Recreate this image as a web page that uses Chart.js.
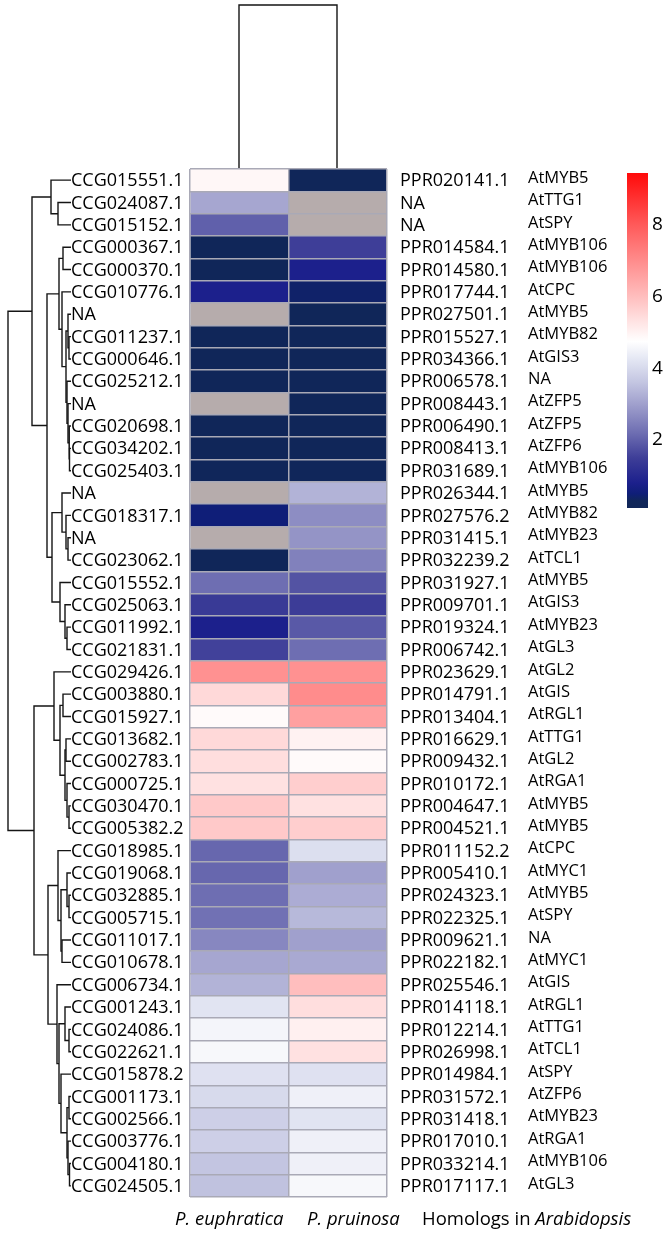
<!DOCTYPE html>
<html lang="en">
<head>
  <meta charset="UTF-8" />
  <title>Expression heatmap: P. euphratica vs P. pruinosa</title>
  <script src="https://cdn.jsdelivr.net/npm/chart.js"></script>
  <style>
    body {
      margin: 0;
      background: #fff;
      font-family: 'Open Sans', 'Liberation Sans', sans-serif;
    }
    .page {
      position: relative;
      width: 669px;
      height: 1236px;
    }
    .page canvas {
      position: absolute;
      left: 0;
      top: 0;
    }
    .collabel {
      position: absolute;
      top: 1208px;
      font-size: 18.5px;
      line-height: 19px;
      color: #000;
      white-space: nowrap;
    }
  </style>
</head>

<body>
  <div class="page">
    <canvas id="rowTree" width="669" height="1236"></canvas>
    <canvas id="colTree" width="669" height="1236"></canvas>
    <canvas id="heat" width="669" height="1236"></canvas>
    <canvas id="scaleBar" width="669" height="1236"></canvas>
    <div class="collabel" style="left:175px"><i>P. euphratica</i></div>
    <div class="collabel" style="left:307px"><i>P. pruinosa</i></div>
    <div class="collabel" style="left:422px">Homologs in <i>Arabidopsis</i></div>
  </div>

  <script>
    // ------------------------------------------
    // Data
    // ------------------------------------------
    const columns = ['P. euphratica', 'P. pruinosa'];

    const ccgLabels = [
      'CCG015551.1', 'CCG024087.1', 'CCG015152.1', 'CCG000367.1', 'CCG000370.1',
      'CCG010776.1', 'NA', 'CCG011237.1', 'CCG000646.1', 'CCG025212.1',
      'NA', 'CCG020698.1', 'CCG034202.1', 'CCG025403.1', 'NA',
      'CCG018317.1', 'NA', 'CCG023062.1', 'CCG015552.1', 'CCG025063.1',
      'CCG011992.1', 'CCG021831.1', 'CCG029426.1', 'CCG003880.1', 'CCG015927.1',
      'CCG013682.1', 'CCG002783.1', 'CCG000725.1', 'CCG030470.1', 'CCG005382.2',
      'CCG018985.1', 'CCG019068.1', 'CCG032885.1', 'CCG005715.1', 'CCG011017.1',
      'CCG010678.1', 'CCG006734.1', 'CCG001243.1', 'CCG024086.1', 'CCG022621.1',
      'CCG015878.2', 'CCG001173.1', 'CCG002566.1', 'CCG003776.1', 'CCG004180.1',
      'CCG024505.1'
    ];

    const pprLabels = [
      'PPR020141.1', 'NA', 'NA', 'PPR014584.1', 'PPR014580.1',
      'PPR017744.1', 'PPR027501.1', 'PPR015527.1', 'PPR034366.1', 'PPR006578.1',
      'PPR008443.1', 'PPR006490.1', 'PPR008413.1', 'PPR031689.1', 'PPR026344.1',
      'PPR027576.2', 'PPR031415.1', 'PPR032239.2', 'PPR031927.1', 'PPR009701.1',
      'PPR019324.1', 'PPR006742.1', 'PPR023629.1', 'PPR014791.1', 'PPR013404.1',
      'PPR016629.1', 'PPR009432.1', 'PPR010172.1', 'PPR004647.1', 'PPR004521.1',
      'PPR011152.2', 'PPR005410.1', 'PPR024323.1', 'PPR022325.1', 'PPR009621.1',
      'PPR022182.1', 'PPR025546.1', 'PPR014118.1', 'PPR012214.1', 'PPR026998.1',
      'PPR014984.1', 'PPR031572.1', 'PPR031418.1', 'PPR017010.1', 'PPR033214.1',
      'PPR017117.1'
    ];

    const homologLabels = [
      'AtMYB5', 'AtTTG1', 'AtSPY', 'AtMYB106', 'AtMYB106',
      'AtCPC', 'AtMYB5', 'AtMYB82', 'AtGIS3', 'NA',
      'AtZFP5', 'AtZFP5', 'AtZFP6', 'AtMYB106', 'AtMYB5',
      'AtMYB82', 'AtMYB23', 'AtTCL1', 'AtMYB5', 'AtGIS3',
      'AtMYB23', 'AtGL3', 'AtGL2', 'AtGIS', 'AtRGL1',
      'AtTTG1', 'AtGL2', 'AtRGA1', 'AtMYB5', 'AtMYB5',
      'AtCPC', 'AtMYC1', 'AtMYB5', 'AtSPY', 'NA',
      'AtMYC1', 'AtGIS', 'AtRGL1', 'AtTTG1', 'AtTCL1',
      'AtSPY', 'AtZFP6', 'AtMYB23', 'AtRGA1', 'AtMYB106',
      'AtGL3'
    ];

    // null = no ortholog (NA)
    const euphValues = [
      4.9, 3.1, 2.0, 0.2, 0.2, 0.8, null, 0.2, 0.2, 0.2,
      null, 0.2, 0.2, 0.25, null, 0.5, null, 0.2, 2.2, 1.4,
      0.8, 1.55, 6.9, 5.5, 4.85, 5.5, 5.4, 5.35, 5.8, 5.8,
      2.1, 2.1, 2.2, 2.25, 2.6, 3.1, 3.3, 4.2, 4.55, 4.6,
      4.15, 4.0, 3.8, 3.8, 3.6, 3.55
    ];

    const pruinValues = [
      0.2, null, null, 1.5, 0.8, 0.4, 0.2, 0.2, 0.2, 0.2,
      0.2, 0.2, 0.2, 0.3, 3.3, 2.7, 2.8, 2.5, 1.8, 1.45,
      1.9, 2.2, 6.9, 7.0, 6.6, 5.0, 4.85, 5.7, 5.35, 5.7,
      4.1, 3.0, 3.2, 3.4, 3.0, 3.15, 6.0, 5.4, 5.05, 5.35,
      4.15, 4.45, 4.2, 4.45, 4.45, 4.6
    ];

    // row dendrogram: [mergeHeight, left, right], leaves are row indices
    const rowTree = [63,
      [39,
        [20, 0, [13, 1, 2]],
        [24,
          [12, [8, 3, 4], [9, 5, [5, [3, 6, [2, 7, 8]], [4, 9, [3, 10, [2, 11, [1.5, 12, 13]]]]]]],
          [19, [9, 14, [5, 15, [3, 16, 17]]], [11, 18, [6, 19, [4, 20, 21]]]]]],
      [37,
        [17, 22, [11, [8, 23, 24], [6, [5, 25, 26], [4, 27, [2, 28, 29]]]]],
        [23,
          [13, 30, [10, [4, 31, [2, 32, 33]], [9, 34, 35]]],
          [14, 36, [12, [6, 37, [2, 38, 39]], [10, 40, [4, [2, 41, 42], [3, 43, [1.5, 44, 45]]]]]]]]
    ];

    // column dendrogram
    const colTree = [1, 0, 1];

    // colour key
    const scaleMin = 0.1;
    const scaleMax = 9.45;
    const scaleTicks = [2, 4, 6, 8];

    // ------------------------------------------
    // Colours
    // ------------------------------------------
    const paletteStops = [0.1, 0.3, 0.5, 0.8, 1.5, 2.2, 3.0, 3.6, 4.2, 4.75, 5.4, 6.0, 7.0, 8.0, 9.45];
    const paletteColors = [
      [16, 38, 88], [16, 38, 90], [15, 30, 120], [28, 32, 140], [62, 62, 152],
      [110, 110, 178], [160, 160, 205], [195, 197, 225], [225, 228, 242], [255, 255, 255],
      [255, 222, 222], [255, 190, 190], [255, 140, 140], [255, 90, 90], [255, 10, 10]
    ];
    const NA_COLOR = '#b6acac';
    const GRID_COLOR = '#a9a9b6';
    const TEXT_COLOR = '#000';

    function paletteColor(v) {
      if (v <= paletteStops[0]) return rgb(paletteColors[0]);
      for (let i = 1; i < paletteStops.length; i++) {
        if (v <= paletteStops[i]) {
          const t = (v - paletteStops[i - 1]) / (paletteStops[i] - paletteStops[i - 1]);
          const a = paletteColors[i - 1], b = paletteColors[i];
          return rgb(a.map((c, k) => c + (b[k] - c) * t));
        }
      }
      return rgb(paletteColors[paletteColors.length - 1]);
    }

    function rgb(c) {
      return `rgb(${Math.round(c[0])}, ${Math.round(c[1])}, ${Math.round(c[2])})`;
    }

    const cellColor = v => (v === null ? NA_COLOR : paletteColor(v));

    // ------------------------------------------
    // Dendrogram helpers
    // ------------------------------------------
    // returns the U-shaped segments of a tree, leaf i sits at i + 0.5
    function treeSegments(tree) {
      const segs = [];
      (function walk(node) {
        if (!Array.isArray(node)) return { h: 0, p: node + 0.5 };
        const [h, l, r] = node;
        const a = walk(l), b = walk(r);
        segs.push([a, { h, p: a.p }, { h, p: b.p }, b]);
        return { h, p: (a.p + b.p) / 2 };
      })(tree);
      return segs;
    }

    Chart.defaults.font.family = "'Open Sans', 'Liberation Sans', sans-serif";
    Chart.defaults.color = TEXT_COLOR;

    const baseOptions = {
      responsive: false,
      animation: false,
      events: [],
      plugins: { legend: { display: false }, tooltip: { enabled: false } }
    };

    const lineStyle = {
      showLine: true,
      borderColor: '#151515',
      borderWidth: 1.4,
      pointRadius: 0,
      clip: false,
      tension: 0
    };

    // ------------------------------------------
    // Row dendrogram (left)
    // ------------------------------------------
    new Chart(document.getElementById('rowTree'), {
      type: 'scatter',
      data: {
        datasets: treeSegments(rowTree).map(seg => ({
          ...lineStyle,
          data: seg.map(pt => ({ x: pt.h, y: pt.p }))
        }))
      },
      options: {
        ...baseOptions,
        layout: { padding: { left: 8, right: 598, top: 169, bottom: 39 } },
        scales: {
          x: { type: 'linear', min: 0, max: rowTree[0], reverse: true, display: false },
          y: { type: 'linear', min: 0, max: ccgLabels.length, reverse: true, display: false }
        }
      }
    });

    // ------------------------------------------
    // Column dendrogram (top)
    // ------------------------------------------
    new Chart(document.getElementById('colTree'), {
      type: 'scatter',
      data: {
        datasets: treeSegments(colTree).map(seg => ({
          ...lineStyle,
          data: seg.map(pt => ({ x: pt.p, y: pt.h }))
        }))
      },
      options: {
        ...baseOptions,
        layout: { padding: { left: 190, right: 283, top: 5, bottom: 1068 } },
        scales: {
          x: { type: 'linear', min: 0, max: columns.length, display: false },
          y: { type: 'linear', min: 0, max: colTree[0], display: false }
        }
      }
    });

    // ------------------------------------------
    // Heatmap
    // ------------------------------------------
    const columnValues = [euphValues, pruinValues];

    new Chart(document.getElementById('heat'), {
      type: 'bar',
      data: {
        labels: ccgLabels,
        datasets: columns.map((name, ci) => ({
          label: name,
          data: columnValues[ci].map(() => [ci, ci + 1]),
          backgroundColor: columnValues[ci].map(cellColor),
          borderWidth: 0,
          grouped: false,
          barPercentage: 1,
          categoryPercentage: 1
        }))
      },
      options: {
        ...baseOptions,
        indexAxis: 'y',
        layout: { padding: { left: 71, right: 41, top: 169, bottom: 39 } },
        scales: {
          x: {
            type: 'linear',
            min: 0,
            max: columns.length,
            position: 'bottom',
            ticks: { display: false, stepSize: 1 },
            grid: { color: GRID_COLOR, lineWidth: 1.5, drawTicks: false, z: 1 },
            border: { display: false },
            afterFit: s => { s.height = 0; }
          },
          y: {
            type: 'category',
            position: 'left',
            grid: { color: GRID_COLOR, lineWidth: 1.5, drawTicks: false, offset: true, z: 1 },
            border: { display: false },
            ticks: { autoSkip: false, crossAlign: 'far', padding: 0, labelOffset: 1, font: { size: 18 } },
            afterFit: s => { s.width = 119; }
          },
          y2: {
            type: 'category',
            labels: pprLabels,
            position: 'right',
            weight: 1,
            offset: true,
            grid: { display: false, drawTicks: false },
            border: { display: false },
            ticks: { autoSkip: false, padding: 13, labelOffset: 1, font: { size: 18 } },
            afterFit: s => { s.width = 141; }
          },
          y3: {
            type: 'category',
            labels: homologLabels,
            position: 'right',
            weight: 2,
            offset: true,
            grid: { display: false, drawTicks: false },
            border: { display: false },
            ticks: { autoSkip: false, padding: 0, labelOffset: -2, font: { size: 16.5 } },
            afterFit: s => { s.width = 100; }
          }
        }
      }
    });

    // ------------------------------------------
    // Colour key
    // ------------------------------------------
    function keyGradient(context) {
      const { chart } = context;
      const { ctx, chartArea, scales } = chart;
      if (!chartArea) return null;
      const y0 = scales.y.getPixelForValue(scaleMin);
      const y1 = scales.y.getPixelForValue(scaleMax);
      const g = ctx.createLinearGradient(0, y0, 0, y1);
      paletteStops.forEach(v => {
        g.addColorStop((v - scaleMin) / (scaleMax - scaleMin), paletteColor(v));
      });
      return g;
    }

    new Chart(document.getElementById('scaleBar'), {
      type: 'bar',
      data: {
        labels: ['key'],
        datasets: [{
          data: [[scaleMin, scaleMax]],
          backgroundColor: keyGradient,
          borderWidth: 0,
          barPercentage: 1,
          categoryPercentage: 1
        }]
      },
      options: {
        ...baseOptions,
        layout: { padding: { left: 627, right: 0, top: 173, bottom: 728 } },
        scales: {
          x: { display: false },
          y: {
            type: 'linear',
            position: 'right',
            min: scaleMin,
            max: scaleMax,
            grid: { display: false, drawTicks: false },
            border: { display: false },
            ticks: { padding: 4, font: { size: 19 } },
            afterBuildTicks: s => { s.ticks = scaleTicks.map(v => ({ value: v })); },
            afterFit: s => { s.width = 21; }
          }
        }
      }
    });
  </script>
</body>
</html>
